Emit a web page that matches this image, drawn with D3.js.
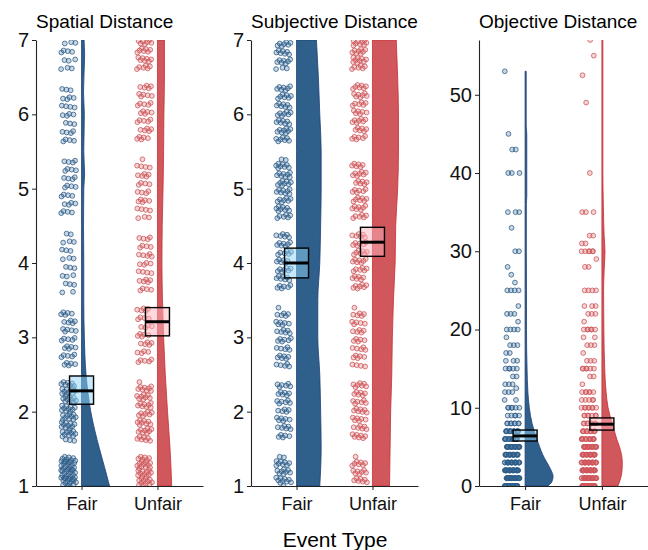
<!DOCTYPE html>
<html>
<head>
<meta charset="utf-8">
<script src="https://cdn.jsdelivr.net/npm/d3@7"></script>
<style>
  body { margin: 0; background: #fff; }
  text { font-family: "Liberation Sans", Arial, sans-serif; fill: #000; }
</style>
</head>
<body>
<svg id="chart" width="648" height="550"></svg>
<script>
var groups = ["Fair", "Unfair"];
var titles = ["Spatial Distance", "Subjective Distance", "Objective Distance"];
var likertLevels = [1, 2, 3, 4, 5, 6, 7];
var likertTicks = [1, 2, 3, 4, 5, 6, 7];
var objectiveTicks = [0, 10, 20, 30, 40, 50];

// number of answers at each scale point 1..7
var spatialFair = [110, 70, 35, 22, 28, 26, 22];
var spatialUnfair = [80, 55, 32, 30, 30, 35, 50];
var subjectiveFair = [60, 40, 40, 45, 55, 50, 50];
var subjectiveUnfair = [50, 45, 35, 45, 45, 45, 60];

// objective distance: [value, count]
var objectiveFair = [[0,25],[1,30],[2,30],[3,25],[4,22],[5,22],[6,18],[7,15],[8,8],[9,5],[10,6],[11,2],[12,3],[12.5,1],
  [13,3],[14,2],[15,5],[16,3],[17,2],[18,3],[19,1],[20,4],[21,1],[22,3],[23,1],[25,4],[26,1],[27,1],[28,1],
  [30,2],[33,1],[35,3],[40,3],[43,2],[45,1],[53,1]];
var objectiveUnfair = [[0,25],[1,28],[2,28],[3,25],[4,22],[5,22],[6,15],[7,12],[8,8],[9,7],[10,8],[11,5],[12,6],[13,1],
  [14,2],[15,6],[16,3],[17,1],[18,3],[19,2],[20,6],[21,1],[22,3],[23,3],[25,4],[28,2],[29,1],[30,6],[31,2],[32,2],
  [35,3],[40,1],[49,1],[52.5,1],[55,1],[57,1]];

// half violin profiles: [value, relative density]
var spatialFairDens = [[1,1.0],[1.2,0.86],[1.5,0.64],[2,0.33],[2.5,0.16],[3,0.1],[3.5,0.08],[4,0.08],[4.5,0.07],
  [5,0.08],[5.2,0.11],[5.5,0.08],[6,0.1],[6.3,0.07],[6.8,0.11],[7,0.09]];
var spatialUnfairDens = [[1,0.51],[1.5,0.45],[2,0.36],[2.5,0.28],[3,0.22],[3.5,0.18],[4,0.16],[4.5,0.17],[5,0.2],
  [5.5,0.22],[6,0.23],[6.5,0.25],[7,0.25]];
var subjectiveFairDens = [[1,0.83],[1.5,0.88],[2,0.86],[2.5,0.83],[3,0.76],[3.5,0.76],[4,0.83],[4.5,0.86],[5,0.88],
  [5.5,0.88],[6,0.83],[6.5,0.78],[7,0.71]];
var subjectiveUnfairDens = [[1,0.61],[1.5,0.63],[2,0.65],[2.5,0.69],[3,0.71],[3.5,0.75],[4,0.81],[4.5,0.83],[5,0.9],
  [5.5,0.93],[6,0.93],[6.5,0.9],[7,0.85]];
var objectiveFairDens = [[0,0.82],[0.5,0.95],[1.2,1.0],[2,0.93],[3,0.78],[4,0.63],[5,0.52],[6,0.42],[7,0.33],[8,0.25],
  [10,0.15],[12,0.1],[15,0.07],[20,0.05],[25,0.05],[30,0.045],[36,0.045],[37,0.06],[45,0.06],[46,0.04],[53,0.04]];
var objectiveUnfairDens = [[0,0.57],[1,0.67],[2,0.72],[3,0.73],[4,0.7],[5,0.63],[6,0.53],[7,0.45],[8,0.37],[10,0.22],
  [12,0.15],[15,0.1],[20,0.07],[25,0.06],[27.5,0.08],[30,0.11],[32,0.08],[36,0.05],[40,0.035],[57,0.035]];

// mean, lower CI, upper CI
var spatialStats = [[2.28, 2.10, 2.48], [3.21, 3.02, 3.40]];
var subjectiveStats = [[4.00, 3.80, 4.20], [4.28, 4.09, 4.48]];
var objectiveStats = [[6.4, 5.75, 7.15], [7.9, 7.15, 8.7]];

var fillCol = { Fair: "#2f5f8b", Unfair: "#d0575b" };
var lineCol = { Fair: "#1d3f78", Unfair: "#c62f34" };
var boxCol = { Fair: "#8fd3f5", Unfair: "#ffb3bd" };

function expandLikert(counts) {
  var out = [];
  likertLevels.forEach(function (lv, i) {
    for (var k = 0; k < counts[i]; k++) out.push(lv);
  });
  return out;
}
function expandPairs(pairs) {
  var out = [];
  pairs.forEach(function (p) {
    for (var k = 0; k < p[1]; k++) out.push(p[0]);
  });
  return out;
}

var panels = [
  { title: titles[0], x0: 36, x1: 203, domain: [1, 7], ticks: likertTicks, yJit: 0.4,
    pts: [expandLikert(spatialFair), expandLikert(spatialUnfair)],
    dens: [spatialFairDens, spatialUnfairDens], stats: spatialStats },
  { title: titles[1], x0: 251, x1: 418, domain: [1, 7], ticks: likertTicks, yJit: 0.4,
    pts: [expandLikert(subjectiveFair), expandLikert(subjectiveUnfair)],
    dens: [subjectiveFairDens, subjectiveUnfairDens], stats: subjectiveStats },
  { title: titles[2], x0: 479, x1: 648, domain: [0, 57], ticks: objectiveTicks, yJit: 0,
    pts: [expandPairs(objectiveFair), expandPairs(objectiveUnfair)],
    dens: [objectiveFairDens, objectiveUnfairDens], stats: objectiveStats }
];

var svg = d3.select("#chart");
var plotTop = 40, plotBottom = 486;
var wScale = d3.scaleLinear().domain([0, 1]).range([0, 28]);

panels.forEach(function (p, pi) {
  var y = d3.scaleLinear().domain(p.domain).range([plotBottom, plotTop]);
  var x = d3.scalePoint().domain(groups).range([p.x0, p.x1]).padding(0.6);
  var g = svg.append("g");

  g.append("clipPath").attr("id", "clip" + pi)
    .append("rect").attr("x", p.x0).attr("y", plotTop)
    .attr("width", p.x1 - p.x0).attr("height", plotBottom - plotTop);
  var plot = g.append("g").attr("clip-path", "url(#clip" + pi + ")");

  groups.forEach(function (grp, gi) {
    var cx = x(grp);
    // half violin
    var area = d3.area()
      .y(function (d) { return y(d[0]); })
      .x0(cx)
      .x1(function (d) { return cx + wScale(d[1]); })
      .curve(d3.curveMonotoneY);
    plot.append("path")
      .datum(p.dens[gi].slice().reverse())
      .attr("d", area)
      .style("fill", fillCol[grp])
      .style("stroke", lineCol[grp])
      .style("stroke-width", 0.8);

    // jittered raw points (deterministic spread)
    var pts = p.pts[gi].map(function (v, i) {
      var jx = ((0.5 + (i + gi * 7) * 0.7548776662) % 1) - 0.5;
      var jy = ((0.5 + (i + gi * 7) * 0.5698402910) % 1) - 0.5;
      return { v: v + jy * 2 * p.yJit, jx: jx };
    }).filter(function (d) { return d.v >= p.domain[0] && d.v <= p.domain[1]; });

    plot.selectAll(null)
      .data(pts)
      .enter()
      .append("circle")
      .attr("cx", function (d) { return cx - 13 + d.jx * 15; })
      .attr("cy", function (d) { return y(d.v); })
      .attr("r", 2.4)
      .style("fill", fillCol[grp])
      .style("fill-opacity", 0.25)
      .style("stroke", fillCol[grp])
      .style("stroke-opacity", 0.8)
      .style("stroke-width", 1);

    // mean with CI box
    var s = p.stats[gi];
    plot.append("rect")
      .attr("x", cx - 12)
      .attr("y", y(s[2]))
      .attr("width", 24)
      .attr("height", y(s[1]) - y(s[2]))
      .style("fill", boxCol[grp])
      .style("fill-opacity", 0.5)
      .style("stroke", "#000")
      .style("stroke-width", 1.4);
    plot.append("line")
      .attr("x1", cx - 12).attr("x2", cx + 12)
      .attr("y1", y(s[0])).attr("y2", y(s[0]))
      .style("stroke", "#000")
      .style("stroke-width", 3);
  });

  // axes
  var yAxis = g.append("g").attr("transform", "translate(" + p.x0 + ",0)")
    .call(d3.axisLeft(y).tickValues(p.ticks).tickFormat(d3.format("d"))
      .tickSize(4).tickSizeOuter(0).tickPadding(3));
  var xAxis = g.append("g").attr("transform", "translate(0," + plotBottom + ")")
    .call(d3.axisBottom(x).tickSize(4).tickSizeOuter(0).tickPadding(4));
  [yAxis, xAxis].forEach(function (a) {
    a.selectAll(".domain").style("stroke", "#222").style("stroke-width", 1.1);
    a.selectAll(".tick line").style("stroke", "#222");
  });
  yAxis.selectAll("text").style("font-size", "20px").style("fill", "#111");
  xAxis.selectAll("text").style("font-size", "18px").style("fill", "#111").attr("dy", "0.9em");

  g.append("text")
    .attr("x", p.x0)
    .attr("y", 28)
    .style("font-size", "19px")
    .text(p.title);
});

svg.append("text")
  .attr("x", 335)
  .attr("y", 547)
  .attr("text-anchor", "middle")
  .style("font-size", "21px")
  .text("Event Type");
</script>
</body>
</html>
